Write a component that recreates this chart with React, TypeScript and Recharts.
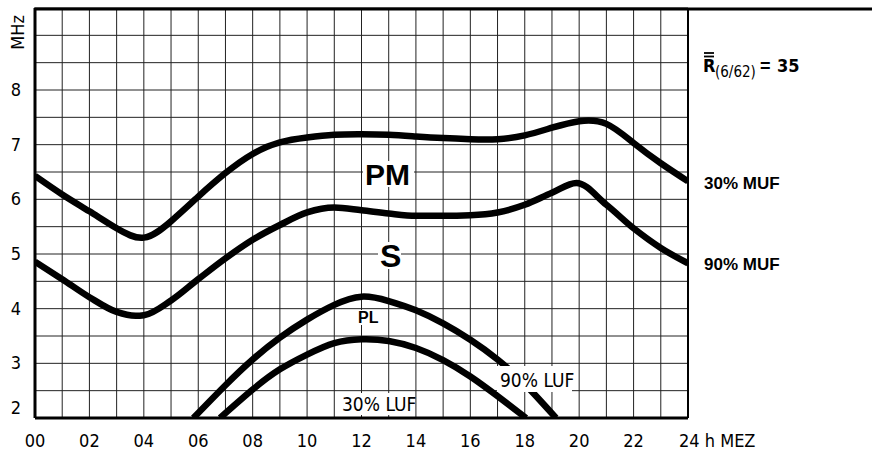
import { LineChart, Line, XAxis, YAxis, CartesianGrid, ReferenceLine } from 'recharts';

// hours (MEZ) and frequencies (MHz)
const muf30Hours = [0, 1, 2, 3, 4, 5, 6, 7, 8, 9, 10, 11, 12, 13, 14, 15, 16, 17, 18, 19, 20, 21, 22, 23, 24];
const muf30Values = [6.43, 6.09, 5.78, 5.47, 5.3, 5.6, 6.05, 6.48, 6.83, 7.04, 7.13, 7.18, 7.19, 7.18, 7.15, 7.12, 7.1, 7.1, 7.17, 7.31, 7.43, 7.38, 7.03, 6.66, 6.33];

const muf90Hours = [0, 1, 2, 3, 3.7, 4, 5, 6, 7, 8, 9, 10, 11, 12, 13, 14, 15, 16, 17, 18, 19, 19.9, 21, 22, 23, 24];
const muf90Values = [4.86, 4.54, 4.21, 3.94, 3.87, 3.88, 4.15, 4.54, 4.92, 5.26, 5.53, 5.76, 5.85, 5.8, 5.74, 5.7, 5.7, 5.71, 5.76, 5.9, 6.12, 6.3, 5.9, 5.47, 5.11, 4.83];

const luf90Hours = [5.82, 7, 8, 9, 10, 11, 12, 13, 14, 15, 16, 17, 18, 19.15];
const luf90Values = [2.0, 2.6, 3.07, 3.47, 3.8, 4.07, 4.22, 4.14, 3.97, 3.73, 3.43, 3.07, 2.62, 2.0];

const luf30Hours = [6.8, 8, 9, 10, 11, 12, 13, 14, 15, 16, 17, 18.05];
const luf30Values = [2.0, 2.52, 2.89, 3.16, 3.37, 3.44, 3.41, 3.28, 3.06, 2.76, 2.4, 2.0];

const hourTicks = Array.from({ length: 25 }, (_, i) => i);
const mhzTicks = [2, 2.5, 3, 3.5, 4, 4.5, 5, 5.5, 6, 6.5, 7, 7.5, 8, 8.5, 9, 9.5];

const toPoints = (hours: number[], values: number[]) => hours.map((h, i) => ({ h, v: values[i] }));

const narrow = "'Liberation Sans Narrow', 'DejaVu Sans Condensed', sans-serif";
const sans = "'Liberation Sans', Arial, sans-serif";

const XTick = ({ x, y, payload }: any) => {
  const v = payload.value as number;
  if (v % 2 !== 0) return <g />;
  const last = v === 24;
  return (
    <text
      x={last ? x - 9 : x}
      y={y + 21}
      textAnchor={last ? 'start' : 'middle'}
      fontFamily={narrow}
      fontSize={18}
      fill="#000"
    >
      {last ? '24 h MEZ' : String(v).padStart(2, '0')}
    </text>
  );
};

const YTick = ({ y, payload }: any) => {
  const v = payload.value as number;
  if (v === 9) {
    return (
      <text x={18} y={y - 3} dy={6} textAnchor="middle" transform={`rotate(-90, 18, ${y - 3})`}
        fontFamily={narrow} fontSize={18} fill="#000">
        MHz
      </text>
    );
  }
  if (!Number.isInteger(v) || v > 8) return <g />;
  const cy = v === 2 ? y - 10 : y;
  return (
    <text x={16} y={cy} dy={6} textAnchor="middle" fontFamily={narrow} fontSize={18} fill="#000">
      {v}
    </text>
  );
};

export default function App() {
  return (
    <div style={{ position: 'absolute', left: 0, top: 0, width: 872, height: 452, background: '#fff' }}>
      <LineChart width={872} height={452} margin={{ top: 8, right: 184, bottom: 0, left: 0 }}>
        <CartesianGrid stroke="#222" strokeWidth={1} />
        <XAxis
          type="number"
          dataKey="h"
          domain={[0, 24]}
          ticks={hourTicks}
          interval={0}
          height={34}
          tickLine={false}
          axisLine={{ stroke: '#000', strokeWidth: 3 }}
          tick={<XTick />}
          allowDataOverflow
        />
        <YAxis
          type="number"
          domain={[2, 9.5]}
          ticks={mhzTicks}
          interval={0}
          width={35}
          tickLine={false}
          axisLine={{ stroke: '#000', strokeWidth: 3 }}
          tick={<YTick />}
          allowDataOverflow
        />
        <ReferenceLine x={24} stroke="#000" strokeWidth={2} />
        <Line data={toPoints(muf30Hours, muf30Values)} dataKey="v" type="natural" stroke="#000" strokeWidth={6.5}
          dot={false} isAnimationActive={false} />
        <Line data={toPoints(muf90Hours, muf90Values)} dataKey="v" type="monotone" stroke="#000" strokeWidth={6.5}
          dot={false} isAnimationActive={false} />
        <Line data={toPoints(luf90Hours, luf90Values)} dataKey="v" type="natural" stroke="#000" strokeWidth={6.5}
          dot={false} isAnimationActive={false} />
        <Line data={toPoints(luf30Hours, luf30Values)} dataKey="v" type="natural" stroke="#000" strokeWidth={6.5}
          dot={false} isAnimationActive={false} />
      </LineChart>

      {/* annotations */}
      <svg width={872} height={452} style={{ position: 'absolute', left: 0, top: 0, pointerEvents: 'none' }}>
        <line x1={34} y1={9} x2={872} y2={9} stroke="#000" strokeWidth={3} />

        <rect x={363} y={161} width={51} height={26} fill="#fff" />
        <text x={365} y={185} fontFamily={sans} fontWeight="bold" fontSize={30}>PM</text>

        <rect x={378} y={242} width={23} height={27} fill="#fff" />
        <text x={380} y={267} fontFamily={sans} fontWeight="bold" fontSize={32}>S</text>

        <rect x={356} y={310} width={23} height={15} fill="#fff" />
        <text x={358} y={323} fontFamily={sans} fontWeight="bold" fontSize={16}>PL</text>

        <rect x={497} y={366} width={75} height={26} fill="#fff" />
        <text x={500} y={387} fontFamily={narrow} fontSize={19}>90% LUF</text>

        <rect x={338} y={393} width={75} height={22} fill="#fff" />
        <text x={342} y={411} fontFamily={narrow} fontSize={19}>30% LUF</text>

        <line x1={704} y1={53} x2={714} y2={53} stroke="#000" strokeWidth={1.8} />
        <line x1={704} y1={56.5} x2={714} y2={56.5} stroke="#000" strokeWidth={1.8} />
        <text x={703} y={72} fontFamily={narrow} fontWeight="bold" fontSize={18}>R</text>
        <text x={715} y={77} fontFamily={narrow} fontSize={15}>(6/62)</text>
        <text x={760} y={72} fontFamily={sans} fontWeight="bold" fontSize={18}>=</text>
        <text x={777} y={72} fontFamily={narrow} fontWeight="bold" fontSize={18}>35</text>

        <text x={704} y={189} fontFamily={sans} fontWeight="bold" fontSize={17}>30% MUF</text>
        <text x={704} y={270} fontFamily={sans} fontWeight="bold" fontSize={17}>90% MUF</text>
      </svg>
    </div>
  );
}
